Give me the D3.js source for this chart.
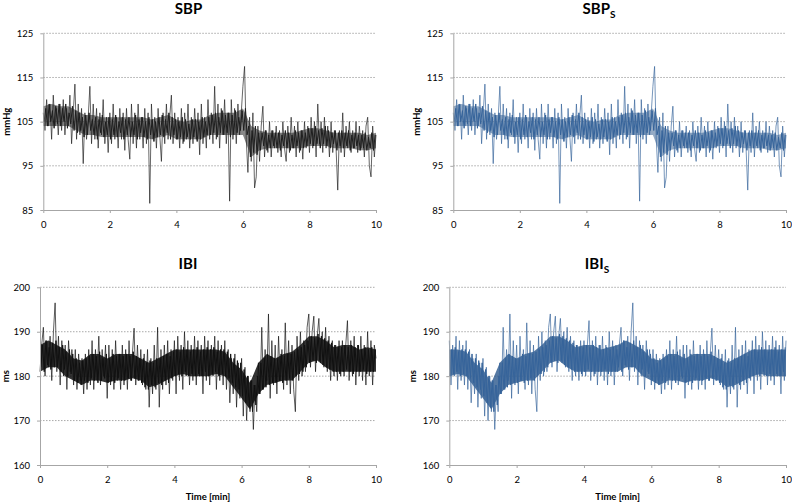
<!DOCTYPE html>
<html>
<head>
<meta charset="utf-8">
<title>SBP / IBI</title>
<style>
body { margin: 0; background: #fff; }
text { font-family: Lato, "Open Sans", sans-serif; fill: #000; }
.grid line { stroke: #8c8c8c; stroke-width: 0.75px; stroke-dasharray: 1.5,1.5; }
.axis path, .axis line { stroke: #a6a6a6; }
.axis text { font-size: 9.5px; font-family: Lato, "Open Sans", sans-serif; }
.title { font-size: 15px; font-weight: bold; text-anchor: middle; }
.label { font-size: 9.5px; font-weight: bold; text-anchor: middle; }
</style>
</head>
<body>
<div id="chart"></div>
<script src="https://cdn.jsdelivr.net/npm/d3@7"></script>
<script>
// time axis, minutes
var timeTicks = [0, 2, 4, 6, 8, 10];
var sbpTicks = [85, 95, 105, 115, 125];
var ibiTicks = [160, 170, 180, 190, 200];

// SBP, outer peaks and troughs, one every 0.05 min
var sbp = [
  107,103,110,104,109,101,111,104,108,102,
  109,103,110,102,108,104,111,100,107,113.5,
  101,109,102,108,95.5,107,101,106,113,100,
  109,101,108,99,107,102,110,100,106,98,
  107,100,109,101,106,99,108,101,107,98.5,
  108,101,96.5,109,100,107,99,109,101,106,
  99,108,100,107,86.5,109,101,106,99,108,
  102,96,107,100,109,101,106,111,100,107,
  101,106,99,108,100,107,101,109,99,106,
  100,108,101,107,97.5,109,100,106,99,110,
  101,107,100,113,101,109,99,108,102,110,
  100,107,87,110,101,108,100,109,102,107,
  113,117.5,101,93.5,106,96,107,90,92.5,104,
  96,104,108.5,97,103,98,105,97,103,99,
  104,98,103,97,105,99,96,104,98,106,
  99,104,97,105,98,103,96.5,105,99,104,
  98,106,99,105,97,109,100,105,98,106,
  99,104,97,105,98,103,99,89.5,103,98,
  107,97,104,99,105,98,103,99,105,98,
  104,99,103,97,104,106,95,92.5,104,97,
  102
];
// SBP, inner (dense) oscillation, between the outer samples
var sbpInner = [
  105,108,104,109,105,107.5,103.5,108.5,104.5,109,
  104,108,105,109,103.5,107,104.5,108.5,103,107.5,
  102.5,107,103,106,101.5,106.5,102,107,103,105.5,
  102,106,101,105.5,102.5,106.5,101.5,105,102,106,
  101,105.5,102,106.5,101.5,105,102.5,106,101,105.5,
  102,106,101.5,105,102,106.5,101,105.5,102.5,106,
  101.5,105,101,106,102,105.5,100.5,105,101.5,106,
  102,106.5,101.5,105.5,102.5,107,101,106,102,105.5,
  101,105,101.5,106,100.5,105.5,101.5,104.5,101,105.5,
  101.5,105.5,100.5,105,101,106,101.5,105,102,106,
  102,106.5,102.5,107,101.5,106,102.5,107.5,102,106.5,
  102.5,107,101.5,106.5,102,107.5,102.5,106,103,107.5,
  103,108,102,104,97,103,98,104,97.5,102.5,
  98.5,102.5,99.5,103,98.5,102,99,103,99.5,102.5,
  99,102.5,98.5,102,99.5,103,99,102.5,98.5,102,
  99,103,99.5,102.5,98.5,103,99,102.5,99.5,103.5,
  100,103.5,99.5,104,100,103,99,103.5,100,104,
  99.5,103,99,102.5,100,103,98.5,102.5,99.5,103,
  99,102.5,99.5,103,98.5,102,99,102.5,99.5,102,
  98.5,102,99,102.5,98.5,101.5,99,102.5,98.5,102
];
// dense core of the trace, every 0.25 min
var sbpCoreLo = [104,104,104,104,103,102,102,101.5,101.5,101.5,101.5,101.5,101.5,101,101.5,102,101,101,101,101,
  102,102,102,102,102,97,98.5,99,99,99,99,99,99.5,99.5,99.5,99,99,99,98.5,98.5,99];
var sbpCoreHi = [108.5,109,108.5,108.5,107.5,106.5,106.5,106,106,106,106,106,106,105.5,106,106.5,105.5,105,105.5,105.5,
  106.5,107,107,107,108,104,103,102.5,102.5,102.5,102.5,103,103.5,103.5,103,102.5,102.5,102.5,102.5,102,102.5];

// SBP surrogate (same trace)
var sbpS = [
  107,103,110,104,109,101,111,104,108,102,
  109,103,110,102,108,104,111,100,107,113.5,
  101,109,102,108,95.5,107,101,106,113,100,
  109,101,108,99,107,102,110,100,106,98,
  107,100,109,101,106,99,108,101,107,98.5,
  108,101,96.5,109,100,107,99,109,101,106,
  99,108,100,107,86.5,109,101,106,99,108,
  102,96,107,100,109,101,106,111,100,107,
  101,106,99,108,100,107,101,109,99,106,
  100,108,101,107,97.5,109,100,106,99,110,
  101,107,100,113,101,109,99,108,102,110,
  100,107,87,110,101,108,100,109,102,107,
  113,117.5,101,93.5,106,96,107,90,92.5,104,
  96,104,108.5,97,103,98,105,97,103,99,
  104,98,103,97,105,99,96,104,98,106,
  99,104,97,105,98,103,96.5,105,99,104,
  98,106,99,105,97,109,100,105,98,106,
  99,104,97,105,98,103,99,89.5,103,98,
  107,97,104,99,105,98,103,99,105,98,
  104,99,103,97,104,106,95,92.5,104,97,
  102
];
var sbpSInner = [
  105,108,104,109,105,107.5,103.5,108.5,104.5,109,
  104,108,105,109,103.5,107,104.5,108.5,103,107.5,
  102.5,107,103,106,101.5,106.5,102,107,103,105.5,
  102,106,101,105.5,102.5,106.5,101.5,105,102,106,
  101,105.5,102,106.5,101.5,105,102.5,106,101,105.5,
  102,106,101.5,105,102,106.5,101,105.5,102.5,106,
  101.5,105,101,106,102,105.5,100.5,105,101.5,106,
  102,106.5,101.5,105.5,102.5,107,101,106,102,105.5,
  101,105,101.5,106,100.5,105.5,101.5,104.5,101,105.5,
  101.5,105.5,100.5,105,101,106,101.5,105,102,106,
  102,106.5,102.5,107,101.5,106,102.5,107.5,102,106.5,
  102.5,107,101.5,106.5,102,107.5,102.5,106,103,107.5,
  103,108,102,104,97,103,98,104,97.5,102.5,
  98.5,102.5,99.5,103,98.5,102,99,103,99.5,102.5,
  99,102.5,98.5,102,99.5,103,99,102.5,98.5,102,
  99,103,99.5,102.5,98.5,103,99,102.5,99.5,103.5,
  100,103.5,99.5,104,100,103,99,103.5,100,104,
  99.5,103,99,102.5,100,103,98.5,102.5,99.5,103,
  99,102.5,99.5,103,98.5,102,99,102.5,99.5,102,
  98.5,102,99,102.5,98.5,101.5,99,102.5,98.5,102
];
var sbpSCoreLo = [104,104,104,104,103,102,102,101.5,101.5,101.5,101.5,101.5,101.5,101,101.5,102,101,101,101,101,
  102,102,102,102,102,97,98.5,99,99,99,99,99,99.5,99.5,99.5,99,99,99,98.5,98.5,99];
var sbpSCoreHi = [108.5,109,108.5,108.5,107.5,106.5,106.5,106,106,106,106,106,106,105.5,106,106.5,105.5,105,105.5,105.5,
  106.5,107,107,107,108,104,103,102.5,102.5,102.5,102.5,103,103.5,103.5,103,102.5,102.5,102.5,102.5,102,102.5];

// IBI
var ibi = [
  181,187,191,180,188,182,189,179,190,196.5,
  181,189,178,188,180,187,177,188,181,186,
  178,186,177,185,179,184,176,185,177,186,
  178,188,177,186,179,189,178,186,180,187,
  175,187,178,186,177,188,179,185,177,187,
  178,186,177,188,179,185,190.8,178,187,179,
  186,178,185,177,186,173,184,176,187,177,
  191,173,186,177,187,178,188,176,186,179,
  188,176,189,179,187,177,190,180,188,178,
  187,179,189,178,188,180,187,176,189,179,
  188,178,187,180,189,177,188,179,187,178,
  188,177,186,174,184,176,185,173,183,175,
  184,171,182,170,180,172,179,168,178,172,
  183,176,191,177,186,179,194,175,188,178,
  187,176,189,179,186,177,192,178,188,176,
  187,177,172,189,179,190,180,188,181,191,
  194,182,190,193.5,181,189,193,183,190,182,
  191,181,189,179,188,180,187,179,188,180,
  188,180,187,192.5,179,188,180,189,178,187,
  180,189,179,187,178,190,180,188,178,187,
  184
];
var ibiInner = [
  182,187,181,188,182.5,186.5,181.5,187.5,182,188,
  182,186.5,181,187,181.5,185.5,180,186,180.5,185,
  179,184,178.5,183,178,183.5,179,184,178.5,184.5,
  179.5,185,179,184.5,178.5,185.5,179,184,179.5,185,
  178.5,184,179,185,178.5,184.5,179.5,185,179,184.5,
  179,185,179.5,184.5,179,185.5,179.5,184.5,179,184,
  178.5,184,177.5,183,177,183.5,178,183,177.5,184,
  178.5,184,178,184.5,179,185,178.5,184.5,179.5,185.5,
  180,186,180.5,185.5,180,186.5,181,186,180,185.5,
  180.5,186,180,186.5,180.5,185.5,180,186,181,186.5,
  180,186,180.5,186.5,181,185.5,180,186,180.5,186,
  180,185.5,179.5,185,178.5,184,177.5,183.5,177,183,
  175.5,181.5,174,180,173,179,172,178,173.5,180,
  176,183,177,184,177.5,185,178,184.5,178.5,184,
  178.5,184,179,185,178.5,184.5,179,185,179.5,185,
  179,185.5,180,186,180.5,186.5,181,187,182,188,
  183,189,183.5,188.5,183,189.5,183.5,189,182.5,188.5,
  182,188,181.5,187.5,181,187,181,186.5,180.5,186.5,
  181,187,181.5,186.5,181,187,180.5,186.5,181,187,
  181,186,181.5,186.5,180.5,186,181,186.5,181,186
];
var ibiCoreLo = [181,182,182,180,179,178,179,179,178.5,179,179,179.5,179,177.5,178,179,180,180.5,180,180,
  180,180.5,180,177.5,175,172.5,176,178,178.5,179,179,181,183,183.5,182,181,181,181,181,181,181];
var ibiCoreHi = [187,188,187,186,184,183.5,185,185,184,185,185,185,184,183,184,185,186,186,186,186,
  186,186,185.5,183,181.5,178.5,183,185,184,185,185.5,187,189,189,188,186.5,187,187,186,186.5,186];

// IBI surrogate
var ibiS = [
  188,178,187,180,189,177,188,179,187,178,
  188,177,186,174,184,176,185,173,183,175,
  184,171,182,170,180,172,179,168,178,172,
  183,176,191,177,186,179,194,175,188,178,
  187,176,189,179,186,177,192,178,188,176,
  187,177,172,189,179,190,180,188,181,191,
  194,182,190,193.5,181,189,193,183,190,182,
  191,181,189,179,188,180,187,179,188,180,
  188,180,187,192.5,179,188,180,189,178,187,
  180,189,179,187,178,190,180,188,178,187,
  181,187,191,180,188,182,189,179,190,196.5,
  181,189,178,188,180,187,177,188,181,186,
  178,186,177,185,179,184,176,185,177,186,
  178,188,177,186,179,189,178,186,180,187,
  175,187,178,186,177,188,179,185,177,187,
  178,186,177,188,179,185,190.8,178,187,179,
  186,178,185,177,186,173,184,176,187,177,
  191,173,186,177,187,178,188,176,186,179,
  188,176,189,179,187,177,190,180,188,178,
  187,179,189,178,188,180,187,176,189,179,
  188
];
var ibiSInner = [
  180,186,180.5,186.5,181,185.5,180,186,180.5,186,
  180,185.5,179.5,185,178.5,184,177.5,183.5,177,183,
  175.5,181.5,174,180,173,179,172,178,173.5,180,
  176,183,177,184,177.5,185,178,184.5,178.5,184,
  178.5,184,179,185,178.5,184.5,179,185,179.5,185,
  179,185.5,180,186,180.5,186.5,181,187,182,188,
  183,189,183.5,188.5,183,189.5,183.5,189,182.5,188.5,
  182,188,181.5,187.5,181,187,181,186.5,180.5,186.5,
  181,187,181.5,186.5,181,187,180.5,186.5,181,187,
  181,186,181.5,186.5,180.5,186,181,186.5,181,186,
  182,187,181,188,182.5,186.5,181.5,187.5,182,188,
  182,186.5,181,187,181.5,185.5,180,186,180.5,185,
  179,184,178.5,183,178,183.5,179,184,178.5,184.5,
  179.5,185,179,184.5,178.5,185.5,179,184,179.5,185,
  178.5,184,179,185,178.5,184.5,179.5,185,179,184.5,
  179,185,179.5,184.5,179,185.5,179.5,184.5,179,184,
  178.5,184,177.5,183,177,183.5,178,183,177.5,184,
  178.5,184,178,184.5,179,185,178.5,184.5,179.5,185.5,
  180,186,180.5,185.5,180,186.5,181,186,180,185.5,
  180.5,186,180,186.5,180.5,185.5,180,186,181,186.5
];
var ibiSCoreLo = [180,180.5,180,177.5,175,172.5,176,178,178.5,179,179,181,183,183.5,182,181,181,181,181,181,
  181,182,182,180,179,178,179,179,178.5,179,179,179.5,179,177.5,178,179,180,180.5,180,180,180];
var ibiSCoreHi = [186,186,185.5,183,181.5,178.5,183,185,184,185,185.5,187,189,189,188,186.5,187,187,186,186.5,
  187,188,187,186,184,183.5,185,185,184,185,185,185,184,183,184,185,186,186,186,186,186];

var width = 792, height = 503;
var svg = d3.select("#chart").append("svg")
  .attr("width", width).attr("height", height);

var panels = [
  { name: "SBP", sub: "", values: sbp, inner: sbpInner, lo: sbpCoreLo, hi: sbpCoreHi, ticks: sbpTicks, unit: "mmHg",
    stroke: "#1e1e1e", fill: "#111", band: 0.5, x0: 43.3, x1: 376, top: 33.3, bot: 210, tx: 188.5, ty: 14, ux: 9.5, xlab: false },
  { name: "SBP", sub: "S", values: sbpS, inner: sbpSInner, lo: sbpSCoreLo, hi: sbpSCoreHi, ticks: sbpTicks, unit: "mmHg",
    stroke: "#35639a", fill: "#2b588c", band: 0.5, x0: 453.3, x1: 786, top: 33.3, bot: 210, tx: 599, ty: 14, ux: 419.5, xlab: false },
  { name: "IBI", sub: "", values: ibi, inner: ibiInner, lo: ibiCoreLo, hi: ibiCoreHi, ticks: ibiTicks, unit: "ms",
    stroke: "#111", fill: "#000", band: 0.8, x0: 40, x1: 376, top: 287.3, bot: 465, tx: 188, ty: 269, ux: 9, xlab: true },
  { name: "IBI", sub: "S", values: ibiS, inner: ibiSInner, lo: ibiSCoreLo, hi: ibiSCoreHi, ticks: ibiTicks, unit: "ms",
    stroke: "#35639a", fill: "#2b588c", band: 0.8, x0: 449.3, x1: 786, top: 287.3, bot: 465, tx: 597, ty: 269, ux: 415.5, xlab: true }
];

panels.forEach(function(p) {
  var g = svg.append("g");
  var x = d3.scaleLinear().domain([0, 10]).range([p.x0, p.x1]);
  var y = d3.scaleLinear().domain([p.ticks[0], p.ticks[p.ticks.length - 1]]).range([p.bot, p.top]);

  // gridlines
  g.append("g").attr("class", "grid")
    .selectAll("line").data(p.ticks.slice(1)).enter().append("line")
    .attr("x1", p.x0).attr("x2", p.x1)
    .attr("y1", function(d) { return y(d); }).attr("y2", function(d) { return y(d); });

  // core band under the trace
  var nc = p.lo.length;
  var area = d3.area()
    .x(function(d, i) { return x(i * 10 / (nc - 1)); })
    .y0(function(d, i) { return y(p.lo[i]); })
    .y1(function(d, i) { return y(p.hi[i]); });
  g.append("path").datum(p.lo)
    .attr("d", area)
    .attr("fill", p.fill).attr("fill-opacity", p.band);

  // inner oscillation, sits between the outer samples
  var m = p.inner.length;
  var innerLine = d3.line()
    .x(function(d, i) { return x((i + 0.5) * 10 / m); })
    .y(function(d) { return y(d); });
  g.append("path").datum(p.inner)
    .attr("d", innerLine)
    .attr("fill", "none")
    .attr("stroke", p.stroke)
    .attr("stroke-width", 1);

  // trace
  var n = p.values.length;
  var line = d3.line()
    .x(function(d, i) { return x(i * 10 / (n - 1)); })
    .y(function(d) { return y(d); });
  g.append("path").datum(p.values)
    .attr("d", line)
    .attr("fill", "none")
    .attr("stroke", p.stroke)
    .attr("stroke-width", 0.8)
    .attr("stroke-opacity", 0.85);

  // axes
  g.append("g").attr("class", "axis")
    .attr("transform", "translate(" + p.x0 + ",0)")
    .call(d3.axisLeft(y).tickValues(p.ticks).tickSize(3).tickPadding(7).tickSizeOuter(0));
  g.append("g").attr("class", "axis")
    .attr("transform", "translate(0," + p.bot + ")")
    .call(d3.axisBottom(x).tickValues(timeTicks).tickSize(3).tickPadding(8).tickSizeOuter(0));

  // title with optional subscript
  var t = g.append("text").attr("class", "title").attr("x", p.tx).attr("y", p.ty).text(p.name);
  if (p.sub) t.append("tspan").attr("dy", 4).attr("font-size", "10px").text(p.sub);

  g.append("text").attr("class", "label")
    .attr("transform", "translate(" + p.ux + "," + ((p.top + p.bot) / 2) + ") rotate(-90)")
    .text(p.unit);

  if (p.xlab) {
    g.append("text").attr("class", "label")
      .attr("x", (p.x0 + p.x1) / 2).attr("y", 500)
      .text("Time [min]");
  }
});
</script>
</body>
</html>
